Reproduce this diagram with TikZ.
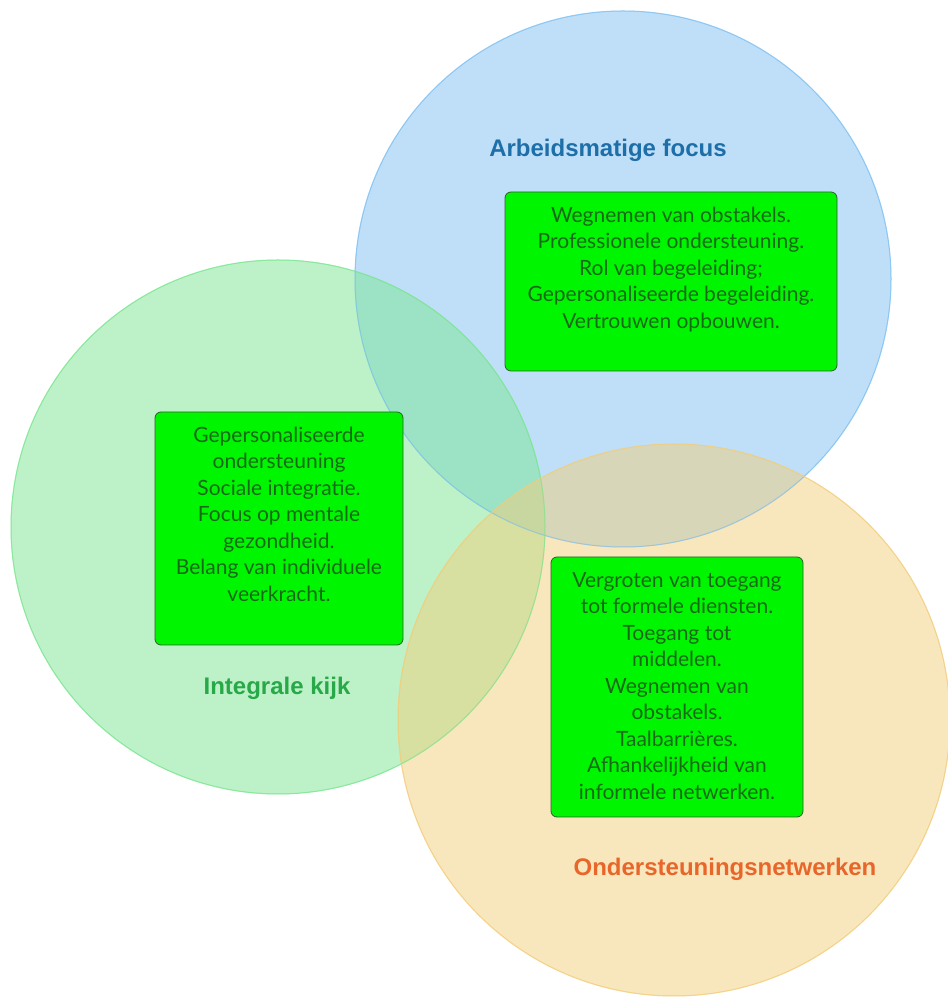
\documentclass[tikz,border=0pt]{standalone}
\usepackage{fontspec}
\setmainfont{Lato}
\newfontfamily\titlefont{Liberation Sans}
\usetikzlibrary{positioning}
\definecolor{setblue}{RGB}{127,192,242}
\definecolor{setgreen}{RGB}{123,229,145}
\definecolor{setorange}{RGB}{242,205,123}
\definecolor{boxfill}{RGB}{0,245,0}
\definecolor{boxedge}{RGB}{45,95,45}
\definecolor{boxtext}{RGB}{25,105,25}
\definecolor{titleblue}{RGB}{30,110,168}
\definecolor{titlegreen}{RGB}{40,168,72}
\definecolor{titleorange}{RGB}{232,102,42}
\newcommand{\toplines}[3]{\parbox[c][#2][t]{#1}{\centering\vspace*{15pt}#3}}
\tikzset
{
    setcircle/.style = {fill opacity=0.5, draw opacity=0.6, line width=1pt},
    infobox/.style   = {rectangle, rounded corners=6pt, draw=boxedge, fill=boxfill, line width=0.8pt, inner sep=0pt, text=boxtext, font=\fontsize{21}{26.5}\selectfont},
    settitle/.style  = {inner sep=0pt, font=\titlefont\bfseries\fontsize{24}{28}\selectfont}
}

\begin{document}
\begin{tikzpicture}[x=1pt, y=1pt]
	\useasboundingbox (0,0) rectangle (948,999);

	\fill [setcircle, fill=setblue, draw=setblue] (623,720) circle (268);
	\fill [setcircle, fill=setgreen, draw=setgreen] (278,472) circle (267);
	\fill [setcircle, fill=setorange, draw=setorange] (674,279) circle (276);
	\draw [setcircle, fill opacity=0, draw=setblue] (623,720) circle (268);
	\draw [setcircle, fill opacity=0, draw=setgreen] (278,472) circle (267);
	\draw [setcircle, fill opacity=0, draw=setorange] (674,279) circle (276);

	\node (labour) [infobox] at (671,717.5) {\toplines{332pt}{179pt}{Wegnemen van obstakels.\\ Professionele ondersteuning.\\ Rol van begeleiding;\\ Gepersonaliseerde begeleiding.\\ Vertrouwen opbouwen.}};
	\node (whole) [infobox] at (279,470.5) {\toplines{248pt}{233pt}{Gepersonaliseerde\\ ondersteuning\\ Sociale integratie.\\ Focus op mentale\\ gezondheid.\\ Belang van individuele\\ veerkracht.}};
	\node (network) [infobox] at (677,312) {\toplines{252pt}{260pt}{Vergroten van toegang\\ tot formele diensten.\\ Toegang tot\\ middelen.\\ Wegnemen van\\ obstakels.\\ Taalbarrières.\\ Afhankelijkheid van\\ informele netwerken.}};

	\node (labourT) [settitle, text=titleblue, above=30pt of labour, xshift=-63pt] {Arbeidsmatige focus};
	\node (wholeT) [settitle, text=titlegreen, below=32pt of whole, xshift=-2pt] {Integrale kijk};
	\node (networkT) [settitle, text=titleorange, below=41pt of network, xshift=48pt] {Ondersteuningsnetwerken};
\end{tikzpicture}
\end{document}
